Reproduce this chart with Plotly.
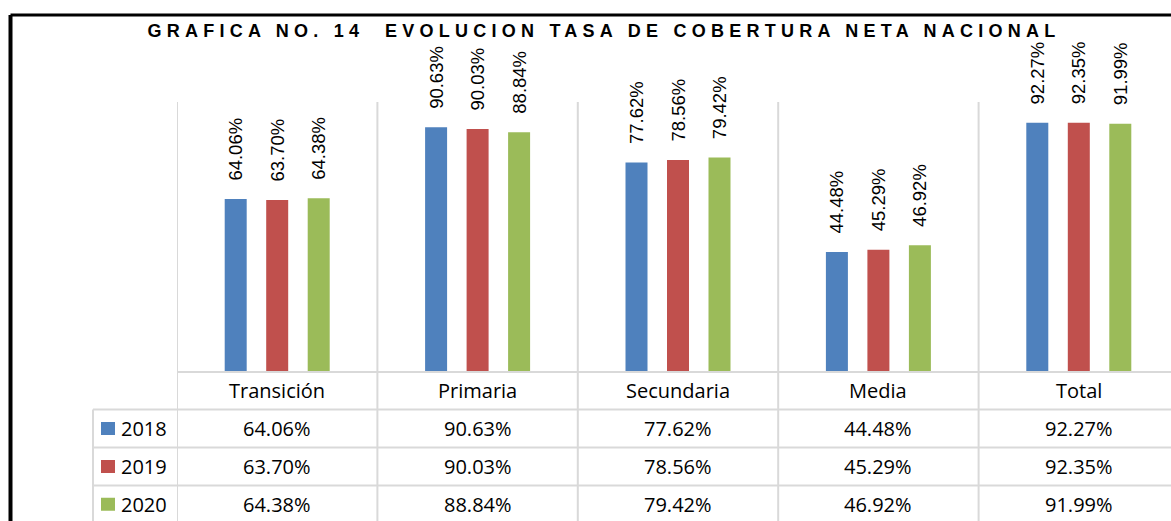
import plotly.graph_objects as go

categories = ['Transición', 'Primaria', 'Secundaria', 'Media', 'Total']
years = ['2018', '2019', '2020']
tasa_2018 = [64.06, 90.63, 77.62, 44.48, 92.27]
tasa_2019 = [63.70, 90.03, 78.56, 45.29, 92.35]
tasa_2020 = [64.38, 88.84, 79.42, 46.92, 91.99]
colors = ['#4F81BD', '#C0504D', '#9BBB59']

W, H = 1171, 521
PLOT_LEFT, PLOT_TOP, PLOT_BOTTOM = 177, 102, 372
CAT_W = 200.4
ROW_LINES = [372, 409.5, 447.5, 485.5, 523]
GRID = '#d9d9d9'
TABLE_FONT = dict(family='Open Sans', size=20, color='black')


def px(x):
    return x / W


def py(y):
    return 1 - y / H


series = [tasa_2018, tasa_2019, tasa_2020]

fig = go.Figure()
for year, vals, col in zip(years, series, colors):
    fig.add_trace(go.Bar(x=categories, y=vals, name=year,
                         marker_color=col, marker_line_width=0,
                         texttemplate='\u00a0\u00a0\u00a0%{y:.2f}%',
                         textposition='outside', textangle=-90,
                         constraintext='none', cliponaxis=False,
                         textfont=dict(family='Liberation Sans, Arial', size=18.5, color='black')))

shapes = []
# vertical separators between categories (plot area + table)
for i in range(len(categories) + 1):
    shapes.append(dict(type='line', xref='x', yref='paper', x0=i - 0.5, x1=i - 0.5,
                       y0=0, y1=py(PLOT_TOP), line=dict(color=GRID, width=2)))
# left column of the data table
shapes.append(dict(type='line', xref='paper', yref='paper', x0=px(93), x1=px(93),
                   y0=0, y1=py(ROW_LINES[1]), line=dict(color=GRID, width=2)))
# horizontal table lines
for k, yl in enumerate(ROW_LINES[:-1]):
    x_start = PLOT_LEFT if k == 0 else 93
    shapes.append(dict(type='line', xref='paper', yref='paper', x0=px(x_start), x1=1.01,
                       y0=py(yl), y1=py(yl), line=dict(color=GRID, width=2)))
# outer chart border
shapes.append(dict(type='line', xref='paper', yref='paper', x0=px(10.5), x1=1.01,
                   y0=py(15), y1=py(15), line=dict(color='black', width=3)))
shapes.append(dict(type='line', xref='paper', yref='paper', x0=px(10.5), x1=px(10.5),
                   y0=-0.01, y1=py(15), line=dict(color='black', width=4)))

annotations = []
header_y = (ROW_LINES[0] + ROW_LINES[1]) / 2
for c in categories:
    annotations.append(dict(x=c, xref='x', y=py(header_y), yref='paper', text=c,
                            showarrow=False, font=TABLE_FONT, xanchor='center', yanchor='middle'))

for r, (year, vals, col) in enumerate(zip(years, series, colors)):
    yc = (ROW_LINES[r + 1] + ROW_LINES[r + 2]) / 2
    shapes.append(dict(type='rect', xref='paper', yref='paper', x0=px(101), x1=px(115),
                       y0=py(yc - 6.5), y1=py(yc + 6.5), fillcolor=col, line_width=0))
    annotations.append(dict(x=px(119), xref='paper', y=py(yc), yref='paper', text=year,
                            showarrow=False, font=TABLE_FONT, xanchor='left', yanchor='middle'))
    for c, v in zip(categories, vals):
        annotations.append(dict(x=c, xref='x', y=py(yc), yref='paper', text=f'{v:.2f}%',
                                showarrow=False, font=TABLE_FONT, xanchor='center', yanchor='middle'))

fig.update_layout(
    width=W, height=H,
    margin=dict(l=0, r=0, t=0, b=0),
    paper_bgcolor='white', plot_bgcolor='white',
    showlegend=False,
    barmode='group', bargap=0.3787, bargroupgap=0.47,
    title=dict(text='GRAFICA NO. 14 \u00a0EVOLUCION TASA DE COBERTURA NETA NACIONAL',
               x=px(604), xanchor='center', xref='container',
               y=py(31), yanchor='middle', yref='container',
               font=dict(family='Liberation Sans, Arial', size=18, weight='bold', color='black')),
    xaxis=dict(type='category', domain=[px(PLOT_LEFT), 1],
               range=[-0.5, -0.5 + (W - PLOT_LEFT) / CAT_W],
               showticklabels=False, showgrid=False, zeroline=False, showline=False, ticks=''),
    yaxis=dict(domain=[py(PLOT_BOTTOM), py(PLOT_TOP)], range=[0, 100], visible=False),
    shapes=shapes,
    annotations=annotations,
)

# page margin off so the figure fills the window; title letter spacing like the original
fig.write_html('out.html', config={'displayModeBar': False},
               post_script="document.body.style.margin='0';"
                           "document.querySelectorAll('.gtitle').forEach(function(t){t.style.letterSpacing='5.25px';});")
